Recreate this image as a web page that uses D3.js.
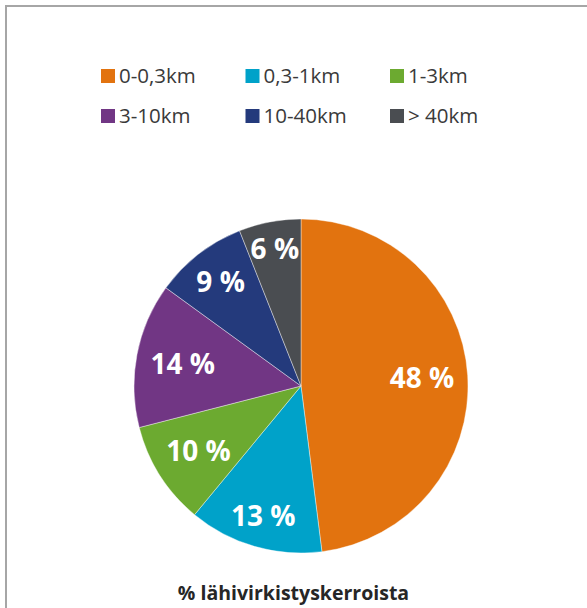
<!DOCTYPE html>
<html>
<head>
<meta charset="utf-8">
<script src="https://cdn.jsdelivr.net/npm/d3@7"></script>
<style>
  body { margin: 0; background: #fff; }
  svg { display: block; font-family: "Open Sans", sans-serif; }
</style>
</head>
<body>
<svg id="chart" width="587" height="608"></svg>
<script>
// chart data
const categories = ['0-0,3km', '0,3-1km', '1-3km', '3-10km', '10-40km', '> 40km'];
const shares = [48, 13, 10, 14, 9, 6];
const colours = ['#e2730f', '#00a2c9', '#6caa30', '#713684', '#243a7c', '#4a4d51'];
const title = '% lähivirkistyskerroista';

const svg = d3.select('#chart');
const width = +svg.attr('width');
const height = +svg.attr('height');

// frame of the chart area (runs off the right and bottom edges)
svg.append('rect')
  .attr('x', 6).attr('y', 6)
  .attr('width', width + 10).attr('height', height + 10)
  .attr('fill', '#fff')
  .attr('stroke', '#a6a6a6')
  .attr('stroke-width', 2);

const colour = d3.scaleOrdinal().domain(categories).range(colours);

// legend: 3 columns x 2 rows
const legendCol = d3.scalePoint().domain([0, 1, 2]).range([101, 390]);
const legendRow = d3.scalePoint().domain([0, 1]).range([69, 109]);

const legend = svg.append('g').attr('class', 'legend')
  .selectAll('g').data(categories)
  .join('g')
    .attr('transform', (d, i) => `translate(${legendCol(i % 3)},${legendRow(Math.floor(i / 3))})`);

legend.append('rect')
  .attr('width', 14).attr('height', 14)
  .attr('fill', d => colour(d));

legend.append('text')
  .attr('x', 18).attr('y', 14.3)
  .attr('font-size', 20.5)
  .attr('fill', '#3a3a3a')
  .text(d => d);

// pie
const cx = 301, cy = 386, radius = 167;
const pie = d3.pie().sort(null).value(d => d.value);
const arc = d3.arc().innerRadius(0).outerRadius(radius);
const slices = pie(categories.map((c, i) => ({ name: c, value: shares[i] })));

const pieG = svg.append('g').attr('transform', `translate(${cx},${cy})`);

pieG.selectAll('path').data(slices)
  .join('path')
    .attr('d', arc)
    .attr('fill', d => colour(d.data.name))
    .attr('stroke', '#fff')
    .attr('stroke-width', 0.4);

// labels placed "inside end": pushed outwards until the box nearly meets the rim
const labelSize = 28;
const labels = pieG.selectAll('text.label').data(slices)
  .join('text')
    .attr('class', 'label')
    .attr('text-anchor', 'middle')
    .attr('font-size', labelSize)
    .attr('font-weight', 700)
    .attr('fill', '#fff')
    .text(d => d.data.value + ' %');

const pad = 13;
labels.each(function(d) {
  const w = this.getComputedTextLength();
  const h = labelSize * 0.72;
  const a = (d.startAngle + d.endAngle) / 2;
  const ux = Math.sin(a), uy = -Math.cos(a);
  const r = radius - pad - (Math.abs(ux) * w / 2 + Math.abs(uy) * h / 2);
  d3.select(this).attr('x', ux * r).attr('y', uy * r + h / 2);
});

// title
svg.append('text')
  .attr('x', 293.5).attr('y', 600)
  .attr('text-anchor', 'middle')
  .attr('font-size', 19.5)
  .attr('font-weight', 700)
  .attr('fill', '#262626')
  .text(title);
</script>
</body>
</html>
